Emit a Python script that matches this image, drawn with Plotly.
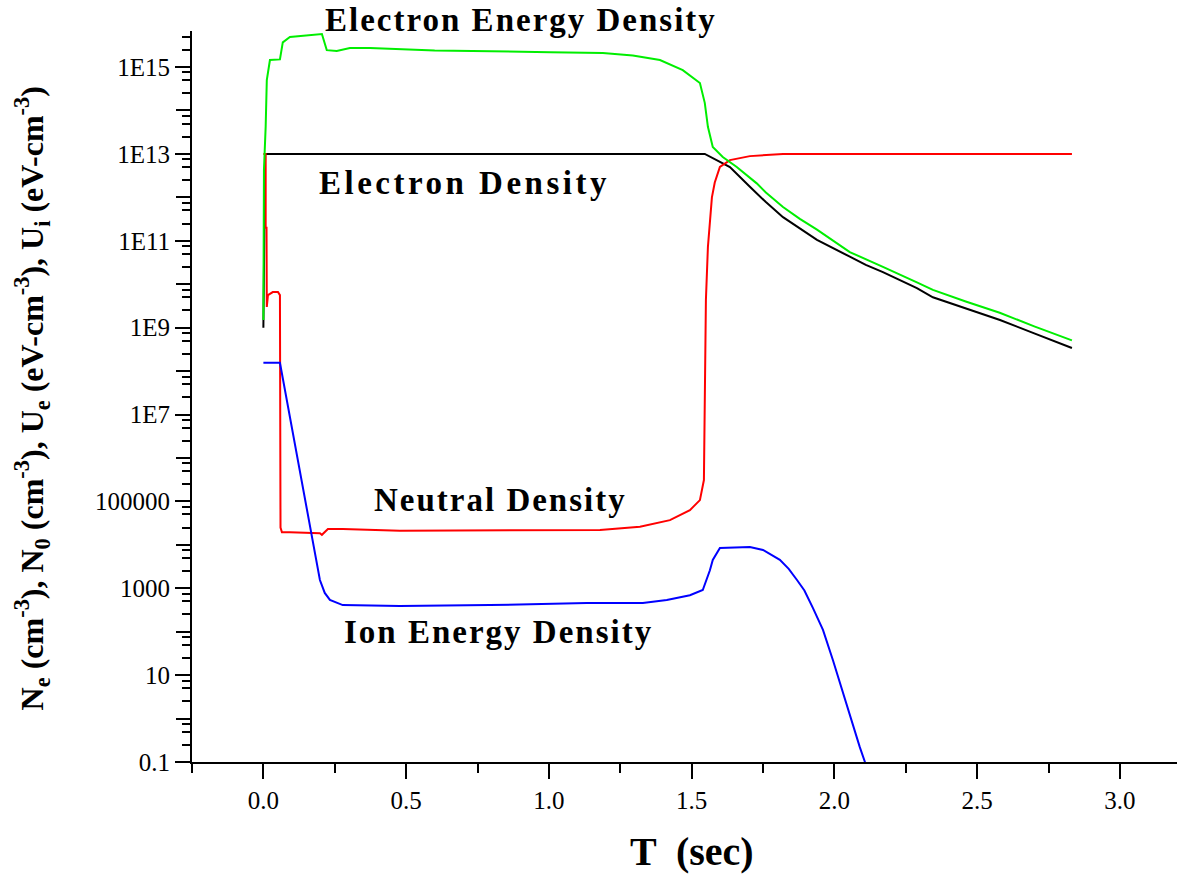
import plotly.graph_objects as go

# Electron energy density U_e (eV-cm^-3)
t_ue = [0.0, 0.002, 0.008, 0.012, 0.023, 0.058, 0.068, 0.093, 0.205, 0.222, 0.257,
        0.303, 0.373, 0.6, 1.004, 1.189, 1.294, 1.389, 1.469, 1.529, 1.546, 1.557,
        1.574, 1.609, 1.658, 1.728, 1.760, 1.820, 1.879, 1.939, 2.054, 2.110, 2.170,
        2.289, 2.345, 2.460, 2.579, 2.700, 2.832]
ue = [1.5e9, 4.3e12, 4.2e13, 5.0e14, 1.45e15, 1.5e15, 3.7e15, 4.9e15, 5.75e15, 2.45e15, 2.35e15,
      2.75e15, 2.75e15, 2.4e15, 2.2e15, 2.1e15, 1.85e15, 1.45e15, 8.5e14, 4.3e14, 1.5e14, 4.2e13,
      1.45e13, 8.5e12, 5.0e12, 2.1e12, 1.3e12, 6.0e11, 3.2e11, 1.8e11, 5.5e10, 3.7e10, 2.5e10,
      1.1e10, 7.4e9, 4.0e9, 2.2e9, 1.07e9, 5.1e8]

# Electron density N_e (cm^-3)
t_ne = [0.0, 0.004, 0.006, 1.546, 1.634, 1.704, 1.760, 1.820, 1.879, 1.939, 2.054, 2.110,
        2.170, 2.289, 2.345, 2.460, 2.580, 2.700, 2.832]
ne = [1.0e9, 6.0e12, 1.0e13, 1.0e13, 5.0e12, 1.75e12, 7.8e11, 3.5e11, 1.9e11, 1.05e11, 4.3e10,
      2.8e10, 1.9e10, 8.1e9, 5.0e9, 2.8e9, 1.5e9, 7.4e8, 3.4e8]

# Neutral density N_0 (cm^-3)
t_n0 = [0.0, 0.008, 0.008, 0.011, 0.012, 0.016, 0.033, 0.051, 0.058, 0.060, 0.065, 0.093,
        0.198, 0.205, 0.226, 0.278, 0.478, 1.179, 1.319, 1.424, 1.494, 1.529, 1.543, 1.546,
        1.550, 1.557, 1.571, 1.581, 1.599, 1.634, 1.704, 1.820, 2.832]
n0 = [1.0e13, 1.0e13, 2.0e11, 2.0e11, 3.0e9, 5.6e9, 6.6e9, 6.6e9, 5.6e9, 2.5e4, 1.95e4, 1.95e4,
      1.85e4, 1.7e4, 2.3e4, 2.3e4, 2.1e4, 2.2e4, 2.6e4, 3.7e4, 6.3e4, 1.07e5, 3.1e5, 2.1e7,
      4.4e9, 7.2e10, 1.0e12, 2.2e12, 5.0e12, 7.2e12, 8.9e12, 1.0e13, 1.0e13]

# Ion energy density U_i (eV-cm^-3)
t_ui = [0.0, 0.058, 0.198, 0.215, 0.233, 0.257, 0.278, 0.478, 0.793, 1.133, 1.329, 1.413,
        1.494, 1.539, 1.553, 1.564, 1.574, 1.599, 1.704, 1.750, 1.809, 1.840, 1.869, 1.895,
        1.925, 1.960, 1.995, 2.030, 2.061, 2.089, 2.107, 2.124]
ui = [1.55e8, 1.55e8, 1.55e3, 780, 540, 460, 410, 390, 410, 460, 460, 540,
      690, 910, 1550, 2600, 4500, 8500, 8900, 7600, 4500, 2800, 1550, 890,
      350, 110, 22, 3.9, 0.93, 0.22, 0.1, 0.039]

# Axis ticks
x_ticks = [0.0, 0.5, 1.0, 1.5, 2.0, 2.5, 3.0]
x_labels = ["0.0", "0.5", "1.0", "1.5", "2.0", "2.5", "3.0"]
y_label_decades = [-1, 1, 3, 5, 7, 9, 11, 13, 15]
y_labels = ["0.1", "10", "1000", "100000", "1E7", "1E9", "1E11", "1E13", "1E15"]
y_plain_decades = [0, 2, 4, 6, 8, 10, 12, 14]

SERIF = "Liberation Serif, Times New Roman, serif"
Y_RANGE = [-1, 15.83]

y_minor = [m * 10.0 ** k for k in range(-1, 16) for m in (2.5, 5.0, 7.5)]

fig = go.Figure()
line_w = 2
fig.add_trace(go.Scatter(x=t_ne, y=ne, mode="lines", line=dict(color="#000000", width=line_w)))
fig.add_trace(go.Scatter(x=t_n0, y=n0, mode="lines", line=dict(color="#ff0000", width=line_w)))
fig.add_trace(go.Scatter(x=t_ue, y=ue, mode="lines", line=dict(color="#00ee00", width=line_w)))
fig.add_trace(go.Scatter(x=t_ui, y=ui, mode="lines", line=dict(color="#0000ff", width=line_w)))
# empty trace so the secondary (unlabelled decade ticks) axis is drawn
fig.add_trace(go.Scatter(x=[], y=[], yaxis="y2", mode="lines", hoverinfo="skip"))

tick_style = dict(ticks="outside", ticklen=15, tickwidth=2, tickcolor="black",
                  showgrid=False, zeroline=False)
tick_font = dict(family=SERIF, size=25, color="black")

fig.update_layout(
    width=1178, height=874,
    margin=dict(l=192, r=1, t=31, b=112),
    paper_bgcolor="white", plot_bgcolor="white",
    showlegend=False,
    xaxis=dict(
        range=[-0.25, 3.2],
        showline=True, linecolor="black", linewidth=2,
        tickmode="array", tickvals=x_ticks, ticktext=x_labels, tickfont=tick_font,
        minor=dict(tickmode="linear", tick0=0, dtick=0.25, ticks="outside",
                   ticklen=9, tickwidth=2, tickcolor="black"),
        **tick_style,
    ),
    yaxis=dict(
        type="log", range=Y_RANGE,
        showline=True, linecolor="black", linewidth=2,
        tickmode="array", tickvals=[10.0 ** k for k in y_label_decades],
        ticktext=y_labels, tickfont=tick_font,
        minor=dict(tickmode="array", tickvals=y_minor, ticks="outside",
                   ticklen=8, tickwidth=2, tickcolor="black"),
        **tick_style,
    ),
    yaxis2=dict(
        type="log", range=Y_RANGE, overlaying="y", side="left", anchor="x",
        showline=False, showticklabels=False,
        tickmode="array", tickvals=[10.0 ** k for k in y_plain_decades],
        **tick_style,
    ),
)

curve_labels = [
    ("Electron Energy Density", 0.902, 1.015, 2),
    ("Electron Density", 0.706, 0.792, 3.5),
    ("Neutral Density", 0.830, 0.358, 2),
    ("Ion Energy Density", 0.825, 0.178, 2),
]
for text, xv, yp, ls in curve_labels:
    fig.add_annotation(text=f'<b><span style="letter-spacing:{ls}px">{text}</span></b>',
                       x=xv, xref="x", y=yp, yref="paper",
                       showarrow=False, xanchor="center", yanchor="middle",
                       font=dict(family=SERIF, size=33, color="black"))

# Axis titles
fig.add_annotation(text="<b>T  (sec)</b>", x=0.508, xref="paper", y=-0.122, yref="paper",
                   showarrow=False, xanchor="center", yanchor="middle",
                   font=dict(family=SERIF, size=40, color="black"))
fig.add_annotation(
    text="<b>N<sub>e</sub> (cm<sup>-3</sup>), N<sub>0</sub> (cm<sup>-3</sup>), "
         "U<sub>e</sub> (eV-cm<sup>-3</sup>), U<sub>i</sub> (eV-cm<sup>-3</sup>)</b>",
    x=-0.162, xref="paper", y=0.498, yref="paper", textangle=-90,
    showarrow=False, xanchor="center", yanchor="middle",
    font=dict(family=SERIF, size=32, color="black"))

fig.write_html("out.html")
